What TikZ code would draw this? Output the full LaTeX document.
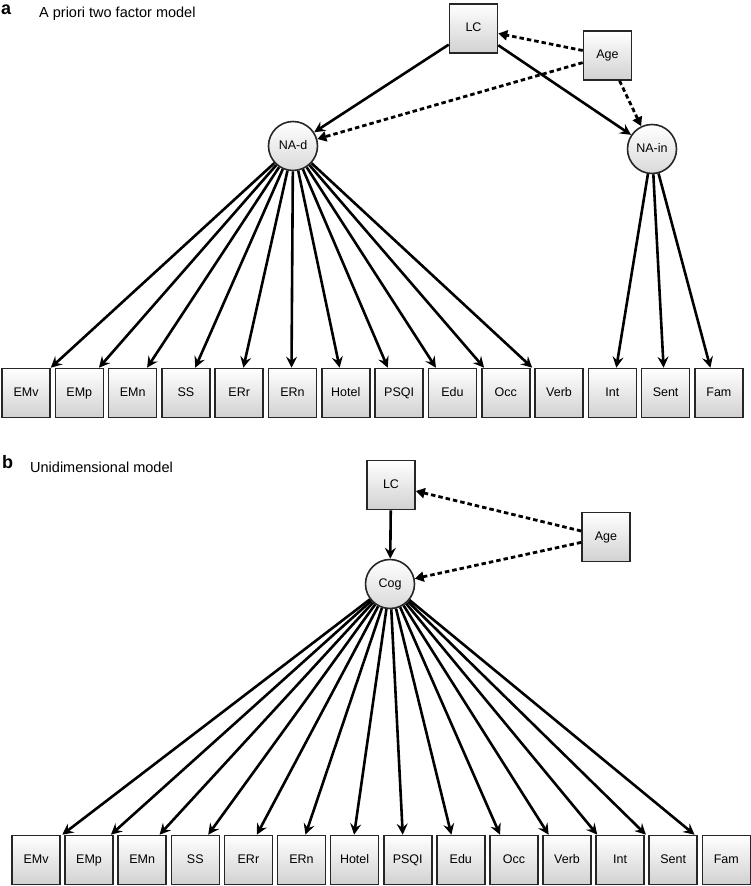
\documentclass[tikz,border=0pt]{standalone}
\usepackage{fontspec}
\setmainfont{Liberation Sans}
\usetikzlibrary{arrows.meta,calc,positioning}

\begin{document}
\begin{tikzpicture}[x=1pt,y=-1pt,
    obs/.style={draw=black!85, line width=1.6pt, top color=white, bottom color=black!18,
        minimum width=48pt, minimum height=49pt, inner sep=0pt, text height=9pt, text depth=2.6pt,
        font=\fontsize{12.5}{13}\selectfont},
    lat/.style={circle, draw=black!85, line width=1.6pt, top color=white, bottom color=black!15,
        minimum size=49pt, inner sep=0pt, text height=9pt, text depth=2.6pt,
        font=\fontsize{12.5}{13}\selectfont},
    load/.style={line width=2.6pt, -{Stealth[length=11pt,width=11pt,inset=4pt]}},
    cov/.style={line width=2.8pt, dash pattern=on 4.5pt off 3pt, -{Triangle[length=9pt,width=10pt]}},
    tag/.style={anchor=base west, inner sep=0pt, font=\fontsize{18}{18}\selectfont\bfseries},
    heading/.style={anchor=base west, inner sep=0pt, font=\fontsize{14.5}{15}\selectfont}]
    \useasboundingbox (0,0) rectangle (750,886);

    % Panel a: two factor model
    \node[tag] (taga) at (1,14) {a};
    \node[heading] (titlea) at (39,17) {A priori two factor model};

    \foreach \name [count=\i from 0] in {EMv,EMp,EMn,SS,ERr,ERn,Hotel,PSQI,Edu,Occ,Verb,Int,Sent,Fam}
        \node[obs] (a\name) at (26+53.3*\i, 393) {\name};

    \node[obs] (LCa) at (473.5,28.5) {LC};
    \node[obs] (Agea) at (607.5,55.5) {Age};
    \node[lat] (NAd) at (293,146) {NA-d};
    \node[lat] (NAin) at (652,149) {NA-in};

    \draw[load] (LCa) -- (NAd);
    \draw[load] (LCa) -- (NAin);
    \draw[cov] (Agea) -- (LCa);
    \draw[cov] (Agea) -- (NAd);
    \draw[cov] (Agea) -- (NAin);

    % Loadings of the first factor
    \foreach \name [count=\i from 0] in {EMv,EMp,EMn,SS,ERr,ERn,Hotel,PSQI,Edu,Occ,Verb} {
        \pgfmathsetmacro{\f}{1-0.104*\i}
        \draw[load] (NAd) -- ($(a\name.north west)!\f!(a\name.north east)$);
    }
    \draw[load] (NAin) -- ([xshift=4pt]aInt.north);
    \draw[load] (NAin) -- ([xshift=-2pt]aSent.north);
    \draw[load] (NAin) -- ([xshift=-8.5pt]aFam.north);

    % Panel b: one factor
    \node[tag] (tagb) at (2,468) {b};
    \node[heading] (titleb) at (30,472) {Unidimensional model};

    \foreach \name [count=\i from 0] in {EMv,EMp,EMn,SS,ERr,ERn,Hotel,PSQI,Edu,Occ,Verb,Int,Sent,Fam}
        \node[obs] (b\name) at (36+53.1*\i, 860) {\name};

    \node[obs] (LCb) at (391,485) {LC};
    \node[obs] (Ageb) at (606,537) {Age};
    \node[lat] (Cog) at (390,584) {Cog};

    \draw[load] (LCb) -- (Cog);
    \draw[cov] (Ageb) -- (LCb);
    \draw[cov] (Ageb) -- (Cog);

    \foreach \name [count=\i from 0] in {EMv,EMp,EMn,SS,ERr,ERn,Hotel,PSQI,Edu,Occ,Verb,Int,Sent,Fam} {
        \pgfmathsetmacro{\f}{1.03-0.09*\i}
        \draw[load] (Cog) -- ($(b\name.north west)!\f!(b\name.north east)$);
    }
\end{tikzpicture}
\end{document}
